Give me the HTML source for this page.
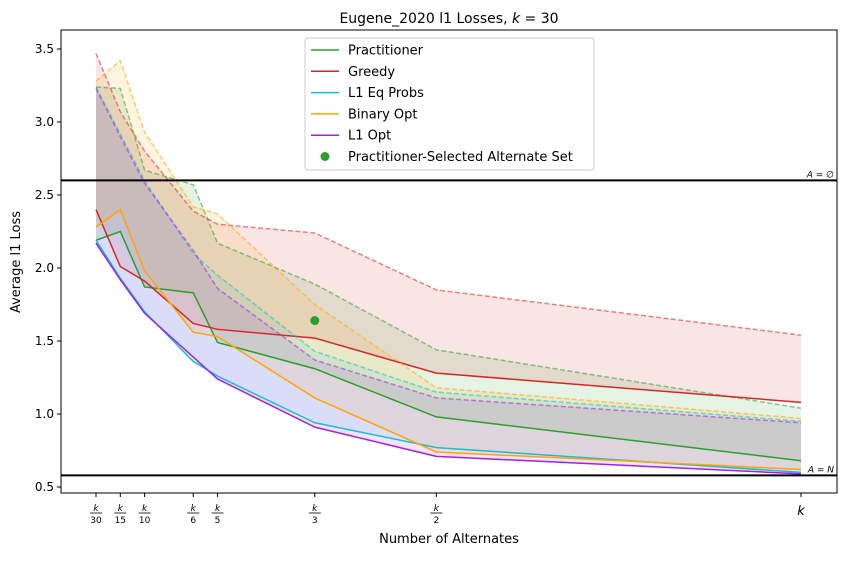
<!DOCTYPE html>
<html><head><meta charset="utf-8"><style>
body{margin:0;background:#fff;}
svg{font-family:"DejaVu Sans","Liberation Sans",sans-serif;}
</style></head><body>
<svg id="chart" width="846" height="556" xmlns="http://www.w3.org/2000/svg">
<rect width="846" height="556" fill="#fff"/>
<g id="plot"></g>
</svg>
<script>
const xVals=[1,2,3,5,6,10,15,30];
const xTickNum=["k","k","k","k","k","k","k"];
const xTickDen=["30","15","10","6","5","3","2"];
const yTicks=[0.5,1.0,1.5,2.0,2.5,3.0,3.5];
const practitioner=[2.19,2.25,1.87,1.83,1.49,1.31,0.98,0.68];
const greedy=[2.40,2.01,1.91,1.62,1.58,1.52,1.28,1.08];
const l1Eq=[2.19,1.93,1.70,1.36,1.26,0.94,0.77,0.60];
const binary=[2.28,2.40,1.98,1.56,1.53,1.11,0.74,0.62];
const l1Opt=[2.17,1.92,1.69,1.39,1.24,0.91,0.71,0.59];
const practitionerUp=[3.24,3.23,2.67,2.57,2.17,1.89,1.44,1.04];
const greedyUp=[3.47,3.07,2.80,2.39,2.30,2.24,1.85,1.54];
const l1EqUp=[3.24,2.92,2.60,2.10,1.95,1.43,1.15,0.95];
const binaryUp=[3.28,3.42,2.93,2.42,2.37,1.75,1.18,0.97];
const l1OptUp=[3.23,2.90,2.58,2.12,1.86,1.37,1.11,0.94];
const emptyLine=2.60, fullLine=0.58;
const altPoint=[10,1.64];

const L=61,R=837,T=30,B=493;
const X=v=>96+(v-1)*(801-96)/29;
const Y=v=>487-(v-0.5)*146;
const NS="http://www.w3.org/2000/svg";
const g=document.getElementById('plot');
function mk(tag,at,parent){const e=document.createElementNS(NS,tag);for(const k in at)e.setAttribute(k,at[k]);(parent||g).appendChild(e);return e;}
const series=[
 ["practitioner",practitioner,practitionerUp,"#2ca02c"],
 ["greedy",greedy,greedyUp,"#d62728"],
 ["l1-eq-probs",l1Eq,l1EqUp,"#17becf"],
 ["binary-opt",binary,binaryUp,"#ffa500"],
 ["l1-opt",l1Opt,l1OptUp,"#a020f0"]];
series.forEach(([n,lo,up,c])=>{
 let d=lo.map((v,i)=>(i?'L':'M')+X(xVals[i])+','+Y(v)).join('');
 for(let i=up.length-1;i>=0;i--)d+='L'+X(xVals[i])+','+Y(up[i]);
 const e=mk('path',{d:d+'Z',fill:c,'fill-opacity':0.12,stroke:'none'});
 
 
});
series.forEach(([n,lo,up,c])=>{
 const p1=mk('polyline',{points:up.map((v,i)=>X(xVals[i])+','+Y(v)).join(' '),fill:'none',stroke:c,'stroke-width':1.5,'stroke-dasharray':'5,2.5','stroke-opacity':0.55});
 
 
 const p2=mk('polyline',{points:lo.map((v,i)=>X(xVals[i])+','+Y(v)).join(' '),fill:'none',stroke:c,'stroke-width':1.5});
 
 
});
[[emptyLine,"A = ∅"],[fullLine,"A = N"]].forEach(([v,t],i)=>{
 const l=mk('line',{x1:L,x2:R,y1:Y(v),y2:Y(v),stroke:'#000','stroke-width':2});
 
 
 const tx=mk('text',{x:834,y:Y(v)-3,'font-size':9,'text-anchor':'end','font-style':'italic'});tx.textContent=t;
 
 
});
const pt=mk('circle',{cx:X(altPoint[0]),cy:Y(altPoint[1]),r:4.5,fill:'#2ca02c'});


const fr=mk('rect',{x:L,y:T,width:R-L,height:B-T,fill:'none',stroke:'#000','stroke-width':1});


yTicks.forEach(v=>{
 mk('line',{x1:L-4,x2:L,y1:Y(v),y2:Y(v),stroke:'#000'});
 const t=mk('text',{x:L-7,y:Y(v)+4,'font-size':12,'text-anchor':'end'});t.textContent=v.toFixed(1);
 
 
});
xTickDen.forEach((d,i)=>{
 const x=X(xVals[i]);
 mk('line',{x1:x,x2:x,y1:B,y2:B+4,stroke:'#000'});
 const a=mk('text',{x:x,y:B+18,'font-size':9,'text-anchor':'middle','font-style':'italic'});a.textContent=xTickNum[i];
 
 
 mk('line',{x1:x-6,x2:x+6,y1:B+20,y2:B+20,stroke:'#000','stroke-width':0.8});
 const b=mk('text',{x:x,y:B+30,'font-size':9,'text-anchor':'middle'});b.textContent=d;
});
mk('line',{x1:X(30),x2:X(30),y1:B,y2:B+4,stroke:'#000'});
const kt=mk('text',{x:X(30),y:B+22,'font-size':13,'text-anchor':'middle','font-style':'italic'});kt.textContent='k';


const xt=mk('text',{x:449,y:543,'font-size':13,'text-anchor':'middle'});xt.textContent='Number of Alternates';

const yt=mk('text',{x:20,y:262,'font-size':13,'text-anchor':'middle',transform:'rotate(-90 20 262)'});yt.textContent='Average l1 Loss';

const tt=mk('text',{x:449,y:23,'font-size':14,'text-anchor':'middle'});tt.innerHTML='Eugene_2020 l1 Losses, <tspan font-style="italic">k</tspan> = 30';

// legend
const lg=mk('g',{});
mk('rect',{x:305,y:38,width:289,height:132,rx:3,fill:'#fff','fill-opacity':0.85,stroke:'#ccc'},lg);
const names=["Practitioner","Greedy","L1 Eq Probs","Binary Opt","L1 Opt"];
series.forEach((s,i)=>{
 const y=50+i*21.3;
 mk('line',{x1:311,x2:339,y1:y,y2:y,stroke:s[3],'stroke-width':1.5},lg);
 const t=mk('text',{x:348,y:y+4.5,'font-size':13},lg);t.textContent=names[i];
 
});
mk('circle',{cx:325,cy:156.5,r:4.5,fill:'#2ca02c'},lg);
const lt=mk('text',{x:348,y:161,'font-size':13},lg);lt.textContent='Practitioner-Selected Alternate Set';

</script>
</body></html>
